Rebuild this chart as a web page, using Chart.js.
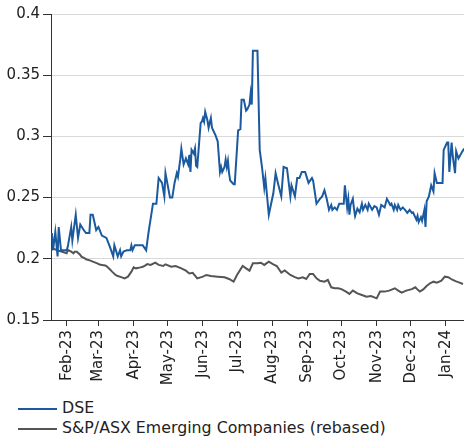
<!DOCTYPE html>
<html>
<head>
<meta charset="utf-8">
<script src="https://cdn.jsdelivr.net/npm/chart.js@4.4.0/dist/chart.umd.min.js"></script>
<style>
  body { margin: 0; background: #fff; font-family: "DejaVu Sans", Verdana, sans-serif; }
  #wrap { position: relative; width: 464px; height: 392px; }
  #legend { margin: 6px 0 0 18px; font-size: 15.8px; color: #222; }
  #legend div { height: 20px; line-height: 20px; white-space: nowrap; }
  #legend span.swatch { display: inline-block; width: 39px; height: 0; border-top: 2px solid; vertical-align: middle; margin-right: 5px; }
</style>
</head>
<body>
<div id="wrap"><canvas id="myChart"></canvas></div>
<div id="legend"></div>
<script>
// x values are days counted from 1 Jan 2023
const dseDays = [18,19,21,23,24,26,31,32,35,36,39,41,43,46,48,51,52,54,57,59,62,66,69,72,73,76,78,79,81,84,87,88,89,91,98,101,103,107,110,112,115,117,118,122,124,126,128,129,131,132,134,136,138,139,140,141,143,144,145,146,149,150,151,152,153,155,156,158,159,160,162,164,166,167,168,170,171,172,173,174,175,178,179,182,184,185,187,189,190,192,193,194,195,199,201,203,205,206,207,209,213,215,217,220,222,225,228,229,232,234,236,238,241,244,247,248,251,254,256,258,260,262,264,265,267,269,271,275,276,278,279,280,281,283,284,285,287,289,291,292,294,296,297,300,302,304,306,308,311,313,316,317,319,320,322,323,325,327,329,331,333,335,336,339,340,341,343,344,346,347,348,350,352,354,355,357,362,363,366,367,368,370,371,373,374,376,379,381];
const dseValues = [0.221,0.207,0.222,0.202,0.226,0.207,0.207,0.210,0.226,0.215,0.236,0.217,0.228,0.2235,0.221,0.221,0.236,0.236,0.2235,0.226,0.219,0.217,0.210,0.202,0.211,0.202,0.207,0.202,0.206,0.207,0.207,0.211,0.207,0.211,0.211,0.207,0.221,0.245,0.245,0.266,0.262,0.251,0.270,0.250,0.250,0.262,0.270,0.267,0.281,0.290,0.277,0.282,0.277,0.285,0.271,0.289,0.286,0.290,0.276,0.275,0.311,0.312,0.315,0.312,0.320,0.313,0.307,0.315,0.307,0.305,0.301,0.296,0.271,0.275,0.271,0.275,0.281,0.275,0.280,0.270,0.264,0.261,0.261,0.305,0.306,0.330,0.330,0.321,0.322,0.326,0.335,0.326,0.370,0.370,0.289,0.275,0.258,0.266,0.256,0.236,0.2535,0.270,0.262,0.251,0.275,0.274,0.251,0.260,0.251,0.266,0.266,0.271,0.271,0.262,0.266,0.264,0.245,0.249,0.251,0.256,0.249,0.240,0.244,0.240,0.242,0.240,0.245,0.245,0.260,0.242,0.249,0.236,0.244,0.249,0.241,0.235,0.241,0.238,0.245,0.240,0.244,0.240,0.245,0.240,0.243,0.242,0.236,0.244,0.242,0.249,0.244,0.245,0.240,0.244,0.240,0.244,0.240,0.242,0.240,0.2375,0.240,0.2375,0.238,0.232,0.235,0.230,0.234,0.231,0.240,0.226,0.247,0.251,0.260,0.255,0.270,0.262,0.262,0.289,0.295,0.295,0.271,0.295,0.284,0.270,0.288,0.282,0.287,0.290];

const indexDays = [18,19,22,27,31,32,35,37,38,40,43,44,47,48,52,54,58,60,62,65,66,69,71,74,76,79,82,85,88,90,92,96,98,100,102,105,109,112,116,118,123,127,132,136,139,142,146,151,154,158,164,170,174,178,181,186,189,192,195,199,202,205,209,213,216,220,223,228,232,235,239,242,245,248,251,254,258,261,264,267,270,273,277,280,283,287,291,295,299,304,307,311,315,320,323,326,330,335,338,341,342,345,348,351,354,357,361,364,367,371,374,377,380];
const indexValues = [0.2072,0.2085,0.2072,0.2058,0.2045,0.2072,0.2058,0.2045,0.2058,0.2058,0.2031,0.2018,0.2004,0.1996,0.1985,0.1977,0.1963,0.1953,0.1950,0.1945,0.1941,0.1914,0.1895,0.1868,0.1859,0.1850,0.1840,0.1854,0.1895,0.1930,0.1922,0.1930,0.1935,0.1945,0.1957,0.1950,0.1968,0.1950,0.1941,0.1955,0.1935,0.1941,0.1922,0.1903,0.1880,0.1886,0.1840,0.1854,0.1868,0.1859,0.1854,0.1849,0.1835,0.1813,0.1868,0.1941,0.1922,0.1903,0.1963,0.1963,0.1968,0.1950,0.1977,0.1955,0.1941,0.1887,0.1905,0.1868,0.1850,0.1840,0.1849,0.1835,0.1876,0.1876,0.1840,0.1821,0.1813,0.1827,0.1767,0.1760,0.1760,0.1752,0.1732,0.1713,0.1740,0.1718,0.1704,0.1690,0.1695,0.1677,0.1732,0.1732,0.1740,0.1759,0.1740,0.1723,0.1740,0.1752,0.1767,0.1740,0.1732,0.1750,0.1778,0.1800,0.1813,0.1805,0.1821,0.1854,0.1850,0.1827,0.1815,0.1805,0.1794];

const monthDays = [31,59,90,120,151,181,212,243,273,304,334,365];
const tickLabels = ['Feb-23','Mar-23','Apr-23','May-23','Jun-23','Jul-23','Aug-23','Sep-23','Oct-23','Nov-23','Dec-23','Jan-24'];
const seriesNames = ['DSE','S&P/ASX Emerging Companies (rebased)'];
const seriesColors = ['#1c5a9f','#555555'];

const toPoints = (days, vals) => days.map((d, i) => ({x: d, y: vals[i]}));
const font = {family: '"DejaVu Sans", Verdana, sans-serif', size: 15};

const ctx = document.getElementById('myChart').getContext('2d');
const chart = new Chart(ctx, {
  type: 'line',
  data: {
    datasets: [{
      label: seriesNames[0],
      data: toPoints(dseDays, dseValues),
      borderColor: seriesColors[0],
      borderWidth: 2,
      pointRadius: 0,
      tension: 0
    }, {
      label: seriesNames[1],
      data: toPoints(indexDays, indexValues),
      borderColor: seriesColors[1],
      borderWidth: 2,
      pointRadius: 0,
      tension: 0
    }]
  },
  options: {
    responsive: true,
    maintainAspectRatio: false,
    animation: false,
    layout: {padding: {top: 14, right: 0, left: 0, bottom: 0}},
    plugins: {legend: {display: false}, tooltip: {enabled: false}},
    scales: {
      x: {
        type: 'linear',
        min: 17.2,
        max: 380.9,
        afterBuildTicks: axis => { axis.ticks = monthDays.map(v => ({value: v})); },
        afterFit: axis => { axis.height = 72; axis.paddingLeft = 0; axis.paddingRight = 0; },
        grid: {drawOnChartArea: false, drawTicks: true, tickLength: 6, tickColor: '#333'},
        border: {color: '#333', width: 1},
        ticks: {
          autoSkip: false,
          minRotation: 90,
          maxRotation: 90,
          padding: 4,
          color: '#222',
          font: font,
          callback: (value, index) => tickLabels[index]
        }
      },
      y: {
        min: 0.15,
        max: 0.4,
        afterFit: axis => { axis.width = 51; },
        grid: {color: '#d9d9d9', tickColor: '#333', tickLength: 8},
        border: {color: '#333', width: 1},
        ticks: {stepSize: 0.05, padding: 3, color: '#222', font: font,
          callback: v => String(Math.round(v * 100) / 100)}
      }
    }
  }
});

const legend = document.getElementById('legend');
seriesNames.forEach((name, i) => {
  const row = document.createElement('div');
  row.innerHTML = '<span class="swatch" style="border-color:' + seriesColors[i] + '"></span>';
  row.appendChild(document.createTextNode(name));
  legend.appendChild(row);
});
</script>
</body>
</html>
